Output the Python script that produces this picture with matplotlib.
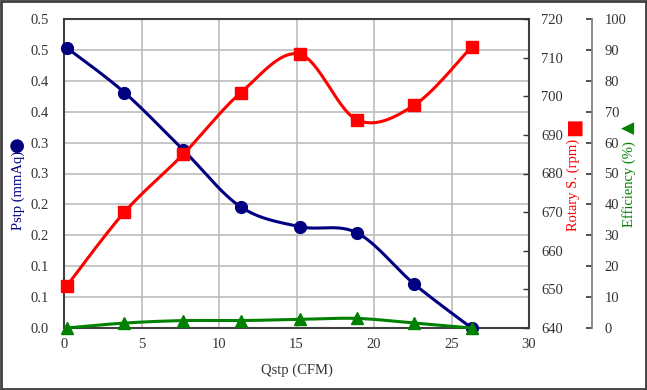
import numpy as np
import matplotlib
matplotlib.use("Agg")
import matplotlib.pyplot as plt
from matplotlib.patches import Rectangle

plt.rcParams['font.family'] = ['Liberation Serif', 'DejaVu Sans']

# data
qstp = [0.2, 3.9, 7.7, 11.4, 15.2, 18.9, 22.6, 26.3]
pstp = [0.453, 0.381, 0.288, 0.196, 0.164, 0.154, 0.071, 0.0]
rotary = [651.0, 670.0, 685.0, 700.9, 710.9, 693.9, 697.7, 712.8]
efficiency = [0.0, 1.6, 2.4, 2.4, 2.8, 3.1, 1.6, 0.0]

pstp_ticks = [0, 0.05, 0.1, 0.15, 0.2, 0.25, 0.3, 0.35, 0.4, 0.45, 0.5]
pstp_labels = ['0.0', '0.1', '0.1', '0.2', '0.2', '0.3', '0.3', '0.4', '0.4', '0.5', '0.5']

W, H = 647, 390
L, R, B, T = 64, 529, 328, 19
pw, ph = R - L, B - T


def smooth(x, y, xspan, yspan, n=30):
    # Excel style smoothed line (bezier through the points), done in pixel space
    px = np.asarray(x) / xspan * pw
    py = np.asarray(y) / yspan * ph
    P = np.column_stack([px, py])
    P = np.vstack([P[0], P, P[-1]])
    out = []
    t = np.linspace(0, 1, n)[:, None]
    for i in range(1, len(P) - 2):
        p0, p1 = P[i], P[i + 1]
        c1 = p0 + (P[i + 1] - P[i - 1]) / 6
        c2 = p1 - (P[i + 2] - P[i]) / 6
        seg = (1 - t) ** 3 * p0 + 3 * (1 - t) ** 2 * t * c1 + 3 * (1 - t) * t ** 2 * c2 + t ** 3 * p1
        out.append(seg)
    out = np.vstack(out)
    return out[:, 0] / pw * xspan, out[:, 1] / ph * yspan


fig = plt.figure(figsize=(W / 100, H / 100), dpi=100)
ax = fig.add_axes([L / W, (H - B) / H, pw / W, ph / H])
ax2 = ax.twinx()
ax3 = ax.twinx()

fs = 10.5
grid_c = '#bcbcbc'
frame_c = '#404040'

# left axis: static pressure
ax.set_xlim(0, 30)
ax.set_ylim(0, 0.5)
ax.set_xticks(range(0, 31, 5))
ax.set_yticks(pstp_ticks)
ax.set_yticklabels(pstp_labels)
ax.grid(True, color=grid_c, linewidth=1.2)
ax.set_axisbelow(True)
ax.tick_params(axis='both', length=0, labelsize=fs, colors='#333333')
ax.tick_params(axis='y', pad=11)
ax.tick_params(axis='x', pad=7)
for s in ax.spines.values():
    s.set_color(frame_c)
    s.set_linewidth(1.5)
ax.set_xlabel('Qstp (CFM)', fontsize=fs, color='#333333', labelpad=9)

sx, sy = smooth(qstp, pstp, 30, 0.5)
ax.plot(sx, sy, color='#000080', linewidth=2.2, zorder=3)
ax.plot(qstp, pstp, 'o', color='#000080', markersize=8.5, zorder=4, clip_on=False)

# right axis: rotary speed
ax2.set_ylim(640, 720)
ax2.set_yticks(range(640, 721, 10))
ax2.tick_params(axis='y', direction='in', length=4, width=1, colors='#333333', labelsize=fs, pad=9)
for s in ax2.spines.values():
    s.set_visible(False)
sx, sy = smooth(qstp, np.array(rotary) - 640, 30, 80)
ax2.plot(sx, sy + 640, color='#ff0000', linewidth=2.2, zorder=3)
ax2.plot(qstp, rotary, 's', color='#ff0000', markersize=8.5, zorder=4, clip_on=False)

# second right axis: efficiency
ax3.spines['right'].set_position(('axes', (592 - L) / pw))
for k in ['top', 'bottom', 'left']:
    ax3.spines[k].set_visible(False)
ax3.spines['right'].set_color('#808080')
ax3.spines['right'].set_linewidth(1.3)
ax3.set_ylim(0, 100)
ax3.set_yticks(range(0, 101, 10))
ax3.tick_params(axis='y', direction='in', length=4, width=1.2, colors='#333333', labelsize=fs, pad=9)
sx, sy = smooth(qstp, efficiency, 30, 100)
ax3.plot(sx, sy, color='#008000', linewidth=2.2, zorder=3, clip_on=False)
ax3.plot(qstp, efficiency, '^', color='#008000', markersize=8, zorder=4, clip_on=False)

# axis titles with their marker symbols
fig.text(18 / W, 1 - 190 / H, 'Pstp (mmAq)', rotation=90, color='#000080',
         fontsize=fs, ha='center', va='center')
fig.text(17 / W, 1 - 144 / H, '\u25CF', rotation=90, color='#000080',
         fontsize=13, ha='center', va='center', family=['DejaVu Sans'])
fig.text(573 / W, 1 - 185 / H, 'Rotary S. (rpm)', rotation=90, color='#ff0000',
         fontsize=fs, ha='center', va='center')
fig.text(573 / W, 1 - 127 / H, '\u25A0', rotation=90, color='#ff0000',
         fontsize=14, ha='center', va='center', family=['DejaVu Sans'])
fig.text(629 / W, 1 - 184 / H, 'Efficiency (%)', rotation=90, color='#008000',
         fontsize=fs, ha='center', va='center')
fig.text(629 / W, 1 - 128 / H, '\u25B2', rotation=90, color='#008000',
         fontsize=12, ha='center', va='center', family=['DejaVu Sans'])

# outer frame
fig.patches.append(Rectangle((0.0015, 0.0025), 0.997, 0.995, transform=fig.transFigure,
                             fill=False, edgecolor='#404040', linewidth=2))

fig.savefig('out.png', dpi=100)
